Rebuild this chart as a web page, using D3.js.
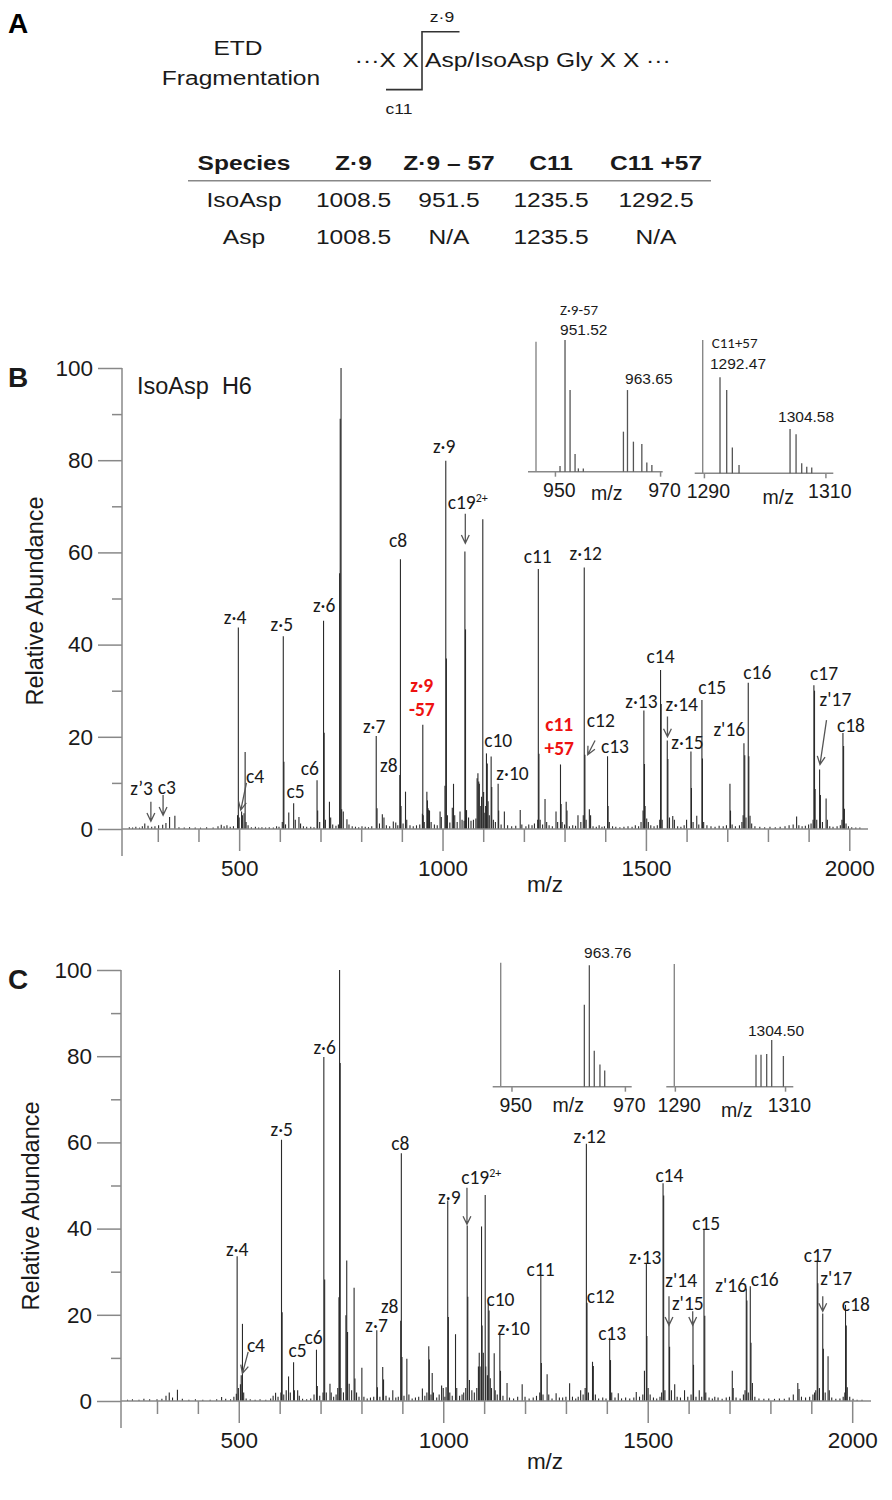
<!DOCTYPE html>
<html>
<head>
<meta charset="utf-8">
<script src="https://cdn.jsdelivr.net/npm/d3@7"></script>
<style>
body { margin: 0; background: #fff; }
svg { display: block; font-family: "Liberation Sans", Arial, sans-serif; }
.lbl { font-family: Carlito, Lato, "Open Sans", sans-serif; }
</style>
</head>
<body>
<svg id="fig" width="892" height="1500"></svg>
<script>
// ---- panel A table ----
var tableHeader = ['Species', 'Z·9', 'Z·9 – 57', 'C11', 'C11 +57'];
var tableRows = [
  ['IsoAsp', '1008.5', '951.5', '1235.5', '1292.5'],
  ['Asp', '1008.5', 'N/A', '1235.5', 'N/A']
];

// ---- axis ticks ----
var yMajor = [0, 20, 40, 60, 80, 100];
var yMinor = [10, 30, 50, 70, 90];
var xMajor = [500, 1000, 1500, 2000];
var xMinor = [300, 400, 600, 700, 800, 900, 1100, 1200, 1300, 1400, 1600, 1700, 1800, 1900];
var mzDomain = [212, 2046];

// ---- panel B spectrum (IsoAsp H6): [m/z, relative abundance] ----
var peaksB = [
  [230,0.4],[238,0.3],[246,0.5],[255,0.3],[262,0.6],[268,1.2],[276,0.7],[285,0.5],[293,0.6],[302,0.8],
  [312,0.9],[320,1.3],[329,2.6],[342,2.9],[352,0.4],[365,0.3],[378,0.4],[392,0.3],[405,0.3],[420,0.4],
  [436,0.3],[448,0.6],[456,0.9],[463,0.6],[470,0.8],[478,0.5],[486,0.6],
  [496,3.0],[498,43.7],[500,2.5],[506,3.8],[508,3.0],[512,3.4],[514.7,16.7],[517,1.5],[522,0.8],[530,0.4],
  [540,0.5],[548,0.3],[556,0.4],[565,0.3],[574,0.4],[584,0.3],[592,0.6],[598,0.5],
  [606,1.5],[608.5,41.8],[610,14.6],[614,1.0],[622,3.6],[634,5.6],[638,2.0],[647,2.6],[651,1.2],[658,0.6],
  [666,0.5],[676,0.5],[684,0.4],
  [691.5,10.6],[693,4.0],[698,1.5],[707.5,45.2],[709,20.9],[712,2.0],[722,5.9],[725,2.5],[730,1.0],[738,0.7],[744,1.0],
  [747,55.5],[748.5,89],[750.5,100],[752,4.3],[756,3.8],[765,2.1],[770,1.0],[778,0.6],[786,0.5],[794,0.4],
  [802,0.6],[810,0.5],[818,0.4],[826,0.6],
  [837,20.2],[839,4.5],[845,1.2],[852,3.2],[856,2.5],[862,0.8],[870,0.6],[879,1.6],[885,1.4],[890,0.8],
  [895,11.7],[896.5,58.5],[898,5],[903,1.2],[909,8.1],[912,2.0],[920,0.8],[928,0.6],[936,0.8],[944,1.0],
  [950.5,3.3],[951.5,22.6],[952.5,3.0],[955,1.5],[961.5,8.1],[963,6.2],[964.5,4.5],[966,4.1],[968,4.0],
  [972,1.5],[980,1.0],[987,0.8],[994,3.8],[997,2.6],
  [1006,9.4],[1008,79.9],[1009.5,37.0],[1012,3.0],[1018,1.4],[1024,4.6],[1027,9.8],[1030,3.0],[1036,1.5],
  [1043,3.8],[1048,2.0],
  [1053,1.8],[1055,60.2],[1056.5,43.3],[1059,4.1],[1064,2.5],[1070,1.8],[1076,2.0],[1082,2.3],
  [1085,11.0],[1087,12.1],[1089,10.3],[1090.5,9.8],[1094,5.0],[1096,7.0],[1099,67.2],[1101,8.0],[1104,3.5],
  [1106,5.0],[1108,16.4],[1110,14.2],[1112,6.0],[1115,3.0],[1119.5,15.7],[1121,9.1],[1125,2.0],[1130,1.5],
  [1136.7,9.8],[1138,4.0],[1144,1.0],[1152,3.8],[1160,0.8],[1170,0.6],[1180,0.7],[1191,4.1],[1195,1.0],
  [1205,0.6],[1212,1.0],[1220,0.8],[1226,1.2],
  [1234,2.0],[1235.5,56.4],[1237,16.3],[1240,2.0],[1246,1.0],[1252,6.5],[1256,1.5],[1262,0.8],[1270,0.6],
  [1279,3.8],[1283,1.5],
  [1290,14.0],[1291.5,5.4],[1294,1.5],[1300,1.0],[1304,5.9],[1306,4.0],[1312,0.6],[1320,0.8],[1327,0.7],
  [1333,3.0],[1340,1.5],
  [1346,3.0],[1348.4,56.7],[1350,16.1],[1353,2.0],[1361,4.3],[1364,3.0],[1370,0.6],[1378,0.5],[1385,0.8],
  [1392,0.5],[1398,0.6],
  [1405.7,15.8],[1407,5.0],[1410,1.5],[1418,0.6],[1426,0.5],[1436,0.4],[1446,0.5],[1456,0.6],[1466,0.5],
  [1474,0.8],[1482,0.6],[1488,1.5],
  [1493,4.0],[1495,25.7],[1496.5,14.1],[1498,5.0],[1502,2.3],[1506,1.5],[1512,0.8],[1520,0.6],[1528,0.8],
  [1534,2.0],[1536,34.5],[1537.5,27.1],[1540,2.0],[1552.5,19.2],[1554,15.2],[1558,2.5],[1566,2.8],[1570,2.0],
  [1578,0.6],[1586,0.5],[1594,0.8],[1600,2.0],
  [1610.7,16.8],[1612,8.9],[1616,1.5],[1625,2.9],[1630,1.0],
  [1637.7,28.0],[1639,15.3],[1642,1.5],[1650,0.8],[1660,0.6],[1670,0.5],[1680,0.7],[1690,0.6],[1698,0.8],
  [1706.6,9.8],[1708,4.0],[1712,1.0],[1720,0.6],[1730,0.8],[1736,1.5],
  [1739,3.0],[1741,18.6],[1743,16.0],[1746,2.5],[1751.6,31.7],[1753,15.8],[1756,2.9],[1760,1.2],[1768,0.6],
  [1780,0.5],[1792,0.4],[1805,0.5],[1818,0.4],[1830,0.5],[1842,0.6],[1852,0.8],[1862,1.0],[1870.5,2.7],
  [1876,0.8],[1884,0.6],[1892,0.7],[1900,1.0],[1906,1.2],
  [1911,2.0],[1913,31.2],[1914.5,30],[1916,8.7],[1920,2.0],[1927,12.9],[1929,7.4],[1934,1.5],[1943,6.6],
  [1946,2.0],[1952,0.6],[1960,0.5],[1970,0.6],[1978,0.8],
  [1982,2.0],[1984.4,20.8],[1986,18.0],[1988,4.4],[1992,1.2],[1998,0.6],[2006,0.4],[2016,0.3],[2026,0.3]
];

// ---- panel C spectrum: [m/z, relative abundance] ----
var peaksC = [
  [228,0.3],[240,0.4],[256,0.3],[268,0.5],[282,0.4],[300,0.4],[312,0.5],[322,1.2],[330,2.0],[338,0.8],
  [350,2.6],[362,0.5],[378,0.3],[394,0.4],[412,0.3],[430,0.3],[446,0.4],[458,0.9],[468,0.5],[480,0.4],[488,1.0],
  [494,1.7],[496,33.6],[499,3.0],[504,3.9],[506,6.0],[509,17.9],[512,2.0],[518,0.6],[528,0.4],[540,0.3],
  [552,0.4],[566,0.3],[578,0.6],[584,1.2],[590,1.9],[596,1.0],
  [603,2.0],[604.5,60.6],[606,20.6],[610,1.5],[616,2.5],[621.7,5.7],[626,2.0],[634,9.0],[636,2.5],[644,2.5],
  [648,1.2],[656,0.5],[666,0.4],[676,0.6],[684,1.5],
  [690,11.9],[692,3.5],[698,1.2],[706,2.0],[708,79.8],[710,28.2],[714,2.0],[723,4.0],[726,2.0],[732,1.0],
  [738,1.5],[742,3.0],
  [745,24.1],[746.5,100],[748,78.4],[750,3.0],[756,2.0],[762,19.9],[764,32.6],[766,16.0],[770,4.0],[776,2.5],
  [782,26.3],[784,5.2],[788,2.0],[794,1.0],[801,7.7],[806,1.0],[814,0.6],[822,0.8],[830,1.0],
  [837.5,16.4],[839,3.2],[845,1.0],[852,7.9],[854,5.0],[860,1.2],[868,0.8],[876.6,2.5],[884,0.8],[890,1.0],
  [896,18.6],[897.5,57.5],[899,10.2],[904,1.2],[911,9.8],[916,1.5],[924,0.6],[932,0.8],[940,1.0],[949,2.9],
  [955,1.2],[960,2.0],[964.6,12.7],[966,9.6],[970,1.5],[973,6.5],[976,2.0],[984,0.8],[990,1.5],[996,3.6],
  [1000,3.0],[1004,1.0],
  [1007,3.2],[1011,46.5],[1012.5,19.5],[1016,2.0],[1022,1.2],[1030,15.5],[1033,3.0],[1040,1.2],[1046,1.5],[1050,2.0],
  [1055,3.0],[1058.6,40.7],[1060,24.2],[1064,4.9],[1070,2.5],[1076,2.0],[1082,3.0],[1086,8.0],[1088,11.2],[1090,8.0],
  [1093.6,40.5],[1095,17.5],[1098,11.2],[1102.6,47.8],[1104,8.0],[1108,6.0],[1110,22.8],[1112,21.0],[1115,5.3],
  [1118,3.0],[1124.6,11.1],[1127,2.5],[1132,1.5],
  [1138.4,15.6],[1140,7.0],[1146,1.2],[1156,4.2],[1162,0.8],[1172,0.6],[1182,1.0],[1193,3.9],[1200,1.0],
  [1210,0.6],[1220,0.8],[1228,1.2],
  [1236,2.0],[1238.6,29.2],[1240,8.8],[1244,1.5],[1254,6.2],[1258,1.5],[1266,0.6],[1276,1.8],[1284,0.8],
  [1292,0.8],[1300,1.0],[1309,4.1],[1316,1.0],[1324,0.6],[1330,1.0],[1336,2.5],[1342,1.5],
  [1347,3.0],[1350,59.7],[1351.5,22.8],[1355,2.0],[1365,9.1],[1367,8.1],[1372,1.5],[1380,0.6],[1390,0.8],[1398,0.6],
  [1407,14.7],[1409,9.5],[1412,2.0],[1420,0.8],[1428,1.8],[1436,0.6],[1446,0.8],[1456,0.6],[1466,0.8],
  [1472,2.1],[1480,1.0],[1488,1.5],
  [1492,7.0],[1496.7,32],[1498,15.1],[1501,3.0],[1506,1.5],[1514,0.8],[1522,0.6],[1530,1.0],
  [1534,2.0],[1537.5,50.5],[1539,47.7],[1542,2.5],[1552,17.7],[1553.5,12.6],[1558,2.5],[1566,3.9],[1572,1.0],
  [1580,0.8],[1590,2.5],[1598,1.0],
  [1606,1.5],[1610.7,18.4],[1612,8.4],[1618,1.0],[1626,2.5],[1632,1.0],
  [1637.6,39.8],[1639.5,19.8],[1642,2.0],[1650,0.8],[1658,0.6],[1664,1.0],[1672,0.8],[1682,0.5],[1692,0.8],
  [1700,1.0],[1706.8,7.0],[1709,3.0],[1716,0.8],[1726,0.6],[1734,1.5],
  [1738,2.5],[1741,26.1],[1742.5,23.3],[1746,2.0],[1750.8,26.6],[1752.5,13.5],[1756,4.2],[1762,1.0],[1772,0.6],
  [1784,0.5],[1796,0.6],[1810,0.5],[1822,0.6],[1834,0.5],[1846,0.8],[1856,1.5],[1867,4.2],[1870,2.8],
  [1876,1.0],[1886,0.8],[1896,1.0],[1904,1.5],[1908,2.0],
  [1911,2.5],[1914.5,32.6],[1916,27.3],[1920,3.0],[1928,20.3],[1929.5,12.1],[1934,2.0],[1941,10.4],[1944,2.5],
  [1950,0.8],[1960,0.5],[1970,0.6],[1978,1.0],
  [1982,2.0],[1983.7,22.3],[1985.5,17.5],[1988,3.2],[1994,1.0],[2002,0.5],[2012,0.3],[2024,0.3]
];

// ---- fragment labels: [text, m/z, abundance, red?] ----
var labelsB = [
  ['z’3',260,8.8],['c3',322,9.0],['c4',539,11.5],['z·4',490,46.0],['z·5',605,44.5],['c5',639,8.2],
  ['c6',674,13.2],['z·6',709,48.6],['z·7',832,22.3],['z8',868,13.9],['c8',891,62.7],
  ['z·9',949,31.2,1],['-57',949,26.0,1],['z·9',1004,83.1],['c19^2+',1062,70.8],['c11',1234,59.2],
  ['c10',1137,19.2],['z·10',1172,12.1],['c11',1287,22.7,1],['+57',1287,17.5,1],
  ['z·12',1352,59.8],['c12',1389,23.5],['c13',1424,18.0],['z·13',1489,27.8],['c14',1536,37.4],
  ['z·14',1588,27.1],['z·15',1602,18.8],['c15',1663,30.7],['z\'16',1705,21.6],['c16',1774,34.1],
  ['c17',1938,33.8],['z\'17',1966,28.2],['c18',2004,22.6]
];
var labelsC = [
  ['z·4',496,35.2],['c4',542,13.0],['z·5',605,63.0],['c5',644,11.7],['c6',683,14.8],['z·6',710,82.0],
  ['z·7',837,17.6],['z8',869,21.9],['c8',895,59.8],['z·9',1015,47.2],['c19^2+',1093,52.0],
  ['c10',1140,23.6],['z·10',1172,16.9],['c11',1238,30.7],['z·12',1358,61.4],['c12',1385,24.3],
  ['c13',1413,15.8],['z·13',1494,33.3],['c14',1553,52.3],['z\'14',1582,28.0],['z\'15',1598,22.6],
  ['c15',1643,41.3],['z\'16',1704,26.9],['c16',1786,28.2],['c17',1916,33.9],['z\'17',1961,28.4],['c18',2009,22.4]
];

// ---- arrows: [m/z from, abundance from, m/z to, abundance to] ----
var arrowsB = [
  [283,5.9,283,1.7],[313,7.4,313,3.0],[518,10.0,504,4.1],[1056,68.4,1056,62.0],
  [1375,19.2,1357,16.1],[1553,24.4,1553,20.0],[1944,23.6,1928,14.0]
];
var arrowsC = [
  [523,11.4,509,6.4],[1058,49.5,1058,41.0],[1552,24.3,1552,17.6],[1610,20.8,1610,17.6],[1928,24.3,1928,20.8]
];

// ---- zoomed insets: [m/z, % of inset max] ----
var insetB1 = [[950.97,4.3],[951.92,100],[952.88,62],[953.83,13.4],[954.46,2.5],[955.4,2.5],
  [963.03,30.4],[963.8,62],[964.93,22.8],[966.53,21],[967.48,7],[968.44,5]];
var insetB2 = [[1292.65,72],[1293.75,62.5],[1294.68,19.3],[1295.78,6.3],[1304.18,33.3],[1305.17,29.3],
  [1306.1,7.5],[1306.93,5],[1307.75,4.3]];
var insetC1 = [[962.85,66],[963.73,98],[964.6,29],[965.6,18],[966.44,13]];
var insetC2 = [[1304.73,26],[1305.64,26],[1306.67,26.6],[1307.58,38],[1309.7,25]];
// inset annotations: [text, m/z (text start), height, small?]
var insetB1Notes = [['Z·9-57',950.97,122.8,1],['951.52',950.97,108.1],['963.65',963.35,70.4]];
var insetB2Notes = [['C11+57',1291.28,98,1],['1292.47',1291.0,82.5],['1304.58',1302.2,42.5]];
var insetC1Notes = [['963.76',962.8,108]];
var insetC2Notes = [['1304.50',1303.28,45.6]];

var svg = d3.select('#fig');
var AXIS = '#888', INK = '#1a1a1a';

// ================= Panel A =================
// the source figure's top panel is set a little wide, so text there is stretched sideways
var gA = svg.append('g');
function textA(x, y, str, size, anchor, bold) {
  return gA.append('text')
    .attr('transform', 'translate(' + x + ',' + y + ') scale(1.17,1)')
    .attr('dy', '0.35em').attr('text-anchor', anchor || 'middle')
    .attr('font-size', size).attr('font-weight', bold ? 'bold' : 'normal')
    .attr('fill', INK).text(str);
}
gA.append('text').attr('x', 8).attr('y', 33).attr('font-size', 28).attr('font-weight', 'bold').text('A');
textA(238, 48, 'ETD', 21);
textA(241, 78, 'Fragmentation', 21);
textA(419, 60, '···X X', 21, 'end');
textA(425, 60, 'Asp/IsoAsp Gly X X ···', 21, 'start');
gA.append('path').attr('d', 'M386,89.6H422V31.7H459.5').attr('fill', 'none')
  .attr('stroke', '#333').attr('stroke-width', 1.6);
textA(442, 16.5, 'z·9', 15);
textA(399, 108.4, 'c11', 15);

var colX = [244, 353.5, 449, 551, 656];
tableHeader.forEach(function(d, i){ textA(colX[i], 163, d, 21, 'middle', true); });
gA.append('line').attr('x1', 188).attr('x2', 711).attr('y1', 180.8).attr('y2', 180.8)
  .attr('stroke', AXIS).attr('stroke-width', 1.6);
tableRows.forEach(function(row, r){
  row.forEach(function(d, i){ textA(colX[i], 200 + r * 37, d, 21); });
});

// ================= helpers =================
function addLabels(g, x, y, labels) {
  labels.forEach(function(d){
    var parts = d[0].split('^');
    var t = g.append('text').attr('class', 'lbl')
      .attr('x', x(d[1])).attr('y', y(d[2])).attr('dy', '0.35em')
      .attr('text-anchor', 'middle').attr('font-size', 19.5)
      .attr('fill', d[3] ? '#ee1111' : INK)
      .attr('font-weight', d[3] ? 'bold' : 'normal')
      .text(parts[0]);
    if (parts[1]) t.append('tspan').attr('font-size', 12).attr('dy', '-0.6em').text(parts[1]);
  });
}

function addArrows(g, x, y, arrows) {
  arrows.forEach(function(d){
    var x1 = x(d[0]), y1 = y(d[1]), x2 = x(d[2]), y2 = y(d[3]);
    var a = Math.atan2(y2 - y1, x2 - x1), L = 9, w = 0.45;
    var p = 'M' + x1 + ',' + y1 + 'L' + x2 + ',' + y2 +
      'M' + (x2 - L * Math.cos(a - w)) + ',' + (y2 - L * Math.sin(a - w)) + 'L' + x2 + ',' + y2 +
      'L' + (x2 - L * Math.cos(a + w)) + ',' + (y2 - L * Math.sin(a + w));
    g.append('path').attr('d', p).attr('fill', 'none').attr('stroke', '#555').attr('stroke-width', 1.3);
  });
}

function styleAxis(sel, size) {
  sel.select('.domain').remove();
  sel.selectAll('line').attr('stroke', AXIS).attr('stroke-width', 1.5);
  sel.selectAll('text').attr('font-size', size).attr('fill', INK)
    .attr('font-family', '"Liberation Sans", Arial, sans-serif');
}

function spectrum(o) {
  var x = d3.scaleLinear().domain(mzDomain).range(o.xr);
  var y = d3.scaleLinear().domain([0, 100]).range(o.yr);
  var g = svg.append('g');

  g.append('g').selectAll('line').data(o.peaks).enter().append('line')
    .attr('x1', function(d){ return x(d[0]); }).attr('x2', function(d){ return x(d[0]); })
    .attr('y1', y(0)).attr('y2', function(d){ return y(d[1]); })
    .attr('stroke', '#2a2a2a').attr('stroke-width', 1.1);

  // axes
  g.append('line').attr('x1', o.xr[0]).attr('x2', o.xr[0]).attr('y1', y(100)).attr('y2', y(0) + 27)
    .attr('stroke', AXIS).attr('stroke-width', 1.5);
  g.append('line').attr('x1', o.xr[0]).attr('x2', o.xr[1]).attr('y1', y(0)).attr('y2', y(0))
    .attr('stroke', AXIS).attr('stroke-width', 1.5);
  g.append('g').attr('transform', 'translate(' + o.xr[0] + ',0)')
    .call(d3.axisLeft(y).tickValues(yMajor).tickSize(24).tickPadding(5))
    .call(function(s){ styleAxis(s, 22.5); });
  g.append('g').attr('transform', 'translate(' + o.xr[0] + ',0)')
    .call(d3.axisLeft(y).tickValues(yMinor).tickSize(10).tickFormat(''))
    .call(function(s){ styleAxis(s, 22); });
  g.append('g').attr('transform', 'translate(0,' + y(0) + ')')
    .call(d3.axisBottom(x).tickValues(xMajor).tickSize(22).tickPadding(9).tickFormat(d3.format('d')))
    .call(function(s){ styleAxis(s, 22.5); });
  g.append('g').attr('transform', 'translate(0,' + y(0) + ')')
    .call(d3.axisBottom(x).tickValues(xMinor).tickSize(13).tickFormat(''))
    .call(function(s){ styleAxis(s, 22); });

  g.append('text').attr('transform', 'translate(' + o.yTitle[0] + ',' + o.yTitle[1] + ') rotate(-90)')
    .attr('text-anchor', 'middle').attr('dy', '0.35em').attr('font-size', 23.5).attr('fill', INK)
    .text('Relative Abundance');
  g.append('text').attr('x', o.xTitle[0]).attr('y', o.xTitle[1]).attr('dy', '0.35em')
    .attr('text-anchor', 'middle').attr('font-size', 22.5).attr('fill', INK).text('m/z');
  g.append('text').attr('x', o.letter[0]).attr('y', o.letter[1]).attr('dy', '0.35em')
    .attr('font-size', 28).attr('font-weight', 'bold').attr('fill', INK).text(o.name);

  addArrows(g, x, y, o.arrows);
  addLabels(g, x, y, o.labels);
  return { g: g, x: x, y: y };
}

function inset(o) {
  var x = d3.scaleLinear().domain(o.dom).range(o.xr);
  var y = d3.scaleLinear().domain([0, 100]).range(o.yr);
  var g = svg.append('g');
  g.append('line').attr('x1', o.xr[0]).attr('x2', o.xr[0]).attr('y1', y(0)).attr('y2', o.yTop)
    .attr('stroke', AXIS).attr('stroke-width', 1.4);
  g.append('line').attr('x1', o.xr[0] - 8).attr('x2', o.xr[1]).attr('y1', y(0)).attr('y2', y(0))
    .attr('stroke', AXIS).attr('stroke-width', 1.4);
  g.append('g').attr('transform', 'translate(0,' + y(0) + ')')
    .call(d3.axisBottom(x).tickValues(o.ticks).tickSize(5).tickPadding(6).tickFormat(d3.format('d')))
    .call(function(s){ styleAxis(s, 19.5); s.selectAll('text').attr('dx', '0.2em'); });
  g.append('g').selectAll('line.pk').data(o.peaks).enter().append('line').attr('class', 'pk')
    .attr('x1', function(d){ return x(d[0]); }).attr('x2', function(d){ return x(d[0]); })
    .attr('y1', y(0)).attr('y2', function(d){ return y(d[1]); })
    .attr('stroke', '#555').attr('stroke-width', 1.3);
  g.append('text').attr('x', o.mz[0]).attr('y', o.mz[1]).attr('dy', '0.35em')
    .attr('text-anchor', 'middle').attr('font-size', 19.5).attr('fill', INK).text('m/z');
  o.notes.forEach(function(d){
    g.append('text').attr('class', d[3] ? 'lbl' : null)
      .attr('x', x(d[1])).attr('y', y(d[2])).attr('dy', '0.35em')
      .attr('font-size', d[3] ? 15 : 15.5).attr('fill', INK).text(d[0]);
  });
}

// ================= Panel B =================
spectrum({ name: 'B', peaks: peaksB, labels: labelsB, arrows: arrowsB,
  xr: [122, 868], yr: [829, 368], yTitle: [35, 601], xTitle: [545, 884], letter: [8, 377] });
svg.append('text').attr('x', 137).attr('y', 386).attr('dy', '0.35em')
  .attr('font-size', 23.5).attr('fill', INK).text('IsoAsp\u00a0 H6');
inset({ dom: [946.4, 970.5], xr: [536, 662.7], yr: [471.7, 340], yTop: 341.7, ticks: [950, 970],
  peaks: insetB1, notes: insetB1Notes, mz: [606.7, 493] });
inset({ dom: [1289.8, 1311.3], xr: [702.7, 833.3], yr: [473.3, 340], yTop: 340, ticks: [1290, 1310],
  peaks: insetB2, notes: insetB2Notes, mz: [778.3, 496.7] });

// ================= Panel C =================
spectrum({ name: 'C', peaks: peaksC, labels: labelsC, arrows: arrowsC,
  xr: [121, 871], yr: [1401, 970], yTitle: [31, 1206], xTitle: [545, 1461], letter: [8, 979] });
inset({ dom: [948.1, 971.2], xr: [500.7, 631.7], yr: [1086.7, 962.7], yTop: 962.7, ticks: [950, 970],
  peaks: insetC1, notes: insetC1Notes, mz: [568.3, 1105] });
inset({ dom: [1289.9, 1311.5], xr: [674.3, 793.3], yr: [1086.7, 964], yTop: 964, ticks: [1290, 1310],
  peaks: insetC2, notes: insetC2Notes, mz: [736.7, 1110] });
</script>
</body>
</html>
